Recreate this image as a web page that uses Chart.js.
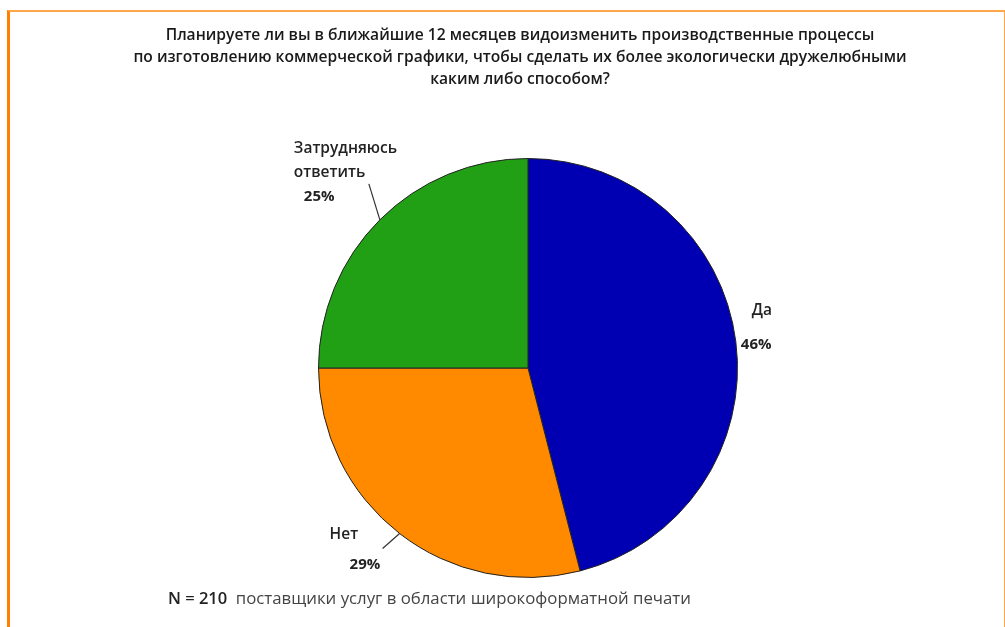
<!DOCTYPE html>
<html>
<head>
<meta charset="utf-8">
<script src="https://cdn.jsdelivr.net/npm/chart.js@4"></script>
<style>
  html, body { margin: 0; padding: 0; background: #fff; }
  #wrap { position: relative; width: 1005px; height: 627px; overflow: hidden; }
  #frame {
    position: absolute; left: 7px; top: 10px; width: 994px; height: 640px;
    border-top: 2px solid #ffa54a; border-left: 3px solid #ff8000; border-right: 2px solid #ffa54a;
  }
  canvas { position: absolute; left: 0; top: 0; }
</style>
</head>
<body>
<div id="wrap">
  <div id="frame"></div>
  <canvas id="pie-chart" width="1005" height="627"></canvas>
</div>
<script>
const ctx = document.getElementById('pie-chart');

const categories = ['Да', 'Нет', 'Затрудняюсь ответить'];
const shares = [46, 29, 25];
const colors = ['#0000b2', '#ff8a00', '#22a015'];

const titleLines = [
    'Планируете ли вы в ближайшие 12 месяцев видоизменить производственные процессы',
    'по изготовлению коммерческой графики, чтобы сделать их более экологически дружелюбными',
    'каким либо способом?'
];
const footBold = 'N = 210';
const footText = 'поставщики услуг в области широкоформатной печати';

// label placement per slice: name lines, offsets from the slice's outer mid point
const labelSpots = [
    { names: ['Да'], dx: 16, dy: -31, pdx: 5, pdy: 3, leader: null },
    { names: ['Нет'], dx: -70, dy: 1, pdx: -50, pdy: 31, leader: [-17, 15] },
    { names: ['Затрудняюсь', 'ответить'], dx: -86, dy: -71, pdx: -76, pdy: -23, leader: [-11, -36] },
];

const textPlugin = {
    id: 'pieText',
    afterDraw(chart) {
        const c = chart.ctx;
        c.save();
        c.fillStyle = '#1a1a1a';
        c.textAlign = 'center';
        c.textBaseline = 'middle';
        c.font = '600 15.6px "Open Sans"';
        titleLines.forEach((t, i) => c.fillText(t, 520, 36 + i * 22));

        const meta = chart.getDatasetMeta(0);
        meta.data.forEach((arc, i) => {
            const mid = (arc.startAngle + arc.endAngle) / 2;
            const ex = arc.x + Math.cos(mid) * arc.outerRadius;
            const ey = arc.y + Math.sin(mid) * arc.outerRadius;
            const s = labelSpots[i];
            if (s.leader) {
                c.strokeStyle = '#333';
                c.lineWidth = 1.2;
                c.beginPath();
                c.moveTo(ex, ey);
                c.lineTo(ex + s.leader[0], ey + s.leader[1]);
                c.stroke();
            }
            c.textAlign = 'left';
            c.fillStyle = '#222';
            c.font = '600 15.5px "Open Sans"';
            s.names.forEach((n, k) => c.fillText(n, ex + s.dx, ey + s.dy + k * 24));
            c.font = 'bold 15px "Open Sans"';
            c.fillText(shares[i] + '%', ex + s.pdx, ey + s.pdy);
        });

        c.textAlign = 'left';
        c.font = '600 16.5px "Open Sans"';
        c.fillStyle = '#222';
        c.fillText(footBold, 168, 599);
        const w = c.measureText(footBold + '  ').width;
        c.font = '16.8px "Open Sans"';
        c.fillStyle = '#444';
        c.fillText(footText, 168 + w, 599);
        c.restore();
    }
};

new Chart(ctx, {
    type: 'pie',
    data: {
        labels: categories,
        datasets: [{
            data: shares,
            backgroundColor: colors,
            borderColor: '#222',
            borderWidth: 1,
        }]
    },
    options: {
        responsive: false,
        animation: false,
        layout: { padding: { top: 158, bottom: 49, left: 318, right: 267 } },
        plugins: {
            legend: { display: false },
            tooltip: { enabled: false },
        }
    },
    plugins: [textPlugin]
});
</script>
</body>
</html>
